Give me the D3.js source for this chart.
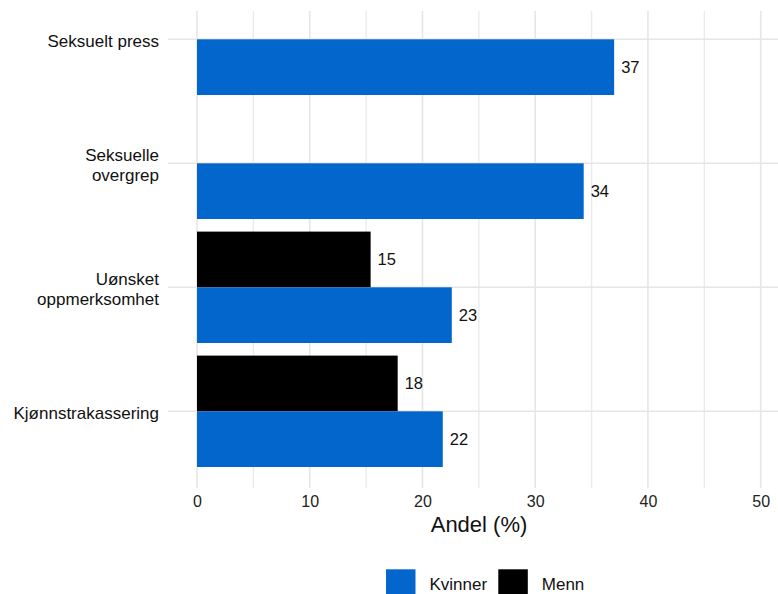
<!DOCTYPE html>
<html>
<head>
<meta charset="utf-8">
<script src="https://cdn.jsdelivr.net/npm/d3@7"></script>
<style>
  html, body { margin: 0; padding: 0; background: #fff; }
  svg { display: block; font-family: "Liberation Sans", Arial, sans-serif; }
</style>
</head>
<body>
<svg id="chart" width="778" height="594"></svg>
<script>
// ---- data ----
const categories = ["Seksuelt press", "Seksuelle\novergrep", "Uønsket\noppmerksomhet", "Kjønnstrakassering"];
const series = ["Menn", "Kvinner"];
const kvinner = [37.0, 34.3, 22.6, 21.8];
const menn = [null, null, 15.4, 17.8];
const xTicks = [0, 10, 20, 30, 40, 50];
const xMinor = [5, 15, 25, 35, 45];
const legendLabels = ["Kvinner", "Menn"];
const colors = { Kvinner: "#0366cc", Menn: "#000000" };
const xTitle = "Andel (%)";

// ---- layout ----
const svg = d3.select("#chart");
const panel = { left: 168, right: 778, top: 11, bottom: 488 };

const x = d3.scaleLinear().domain([0, 50]).range([197, 760.7]);
const y = d3.scalePoint().domain(categories).range([39.3, 411.3]);
const sub = d3.scaleBand().domain(series).range([-55.7, 55.7]).padding(0);

const grid = svg.append("g");
// vertical grid (major + minor)
grid.selectAll("line.vmin").data(xMinor).join("line")
  .attr("x1", d => x(d)).attr("x2", d => x(d))
  .attr("y1", panel.top).attr("y2", panel.bottom)
  .attr("stroke", "#ebebeb").attr("stroke-width", 1.4);
grid.selectAll("line.vmaj").data(xTicks).join("line")
  .attr("x1", d => x(d)).attr("x2", d => x(d))
  .attr("y1", panel.top).attr("y2", panel.bottom)
  .attr("stroke", "#e6e6e6").attr("stroke-width", 1.6);
// horizontal grid
grid.selectAll("line.h").data(categories).join("line")
  .attr("x1", panel.left).attr("x2", panel.right)
  .attr("y1", d => y(d)).attr("y2", d => y(d))
  .attr("stroke", "#e6e6e6").attr("stroke-width", 1.6);

// bars
const rows = [];
categories.forEach((c, i) => {
  if (menn[i] != null) rows.push({ cat: c, s: "Menn", v: menn[i] });
  if (kvinner[i] != null) rows.push({ cat: c, s: "Kvinner", v: kvinner[i] });
});

svg.append("g").selectAll("rect").data(rows).join("rect")
  .attr("x", x(0))
  .attr("y", d => y(d.cat) + sub(d.s))
  .attr("width", d => x(d.v) - x(0))
  .attr("height", sub.bandwidth())
  .attr("fill", d => colors[d.s]);

svg.append("g").selectAll("text").data(rows).join("text")
  .attr("x", d => x(d.v) + 7)
  .attr("y", d => y(d.cat) + sub(d.s) + sub.bandwidth() / 2)
  .attr("dy", "0.36em")
  .attr("font-size", 16.5)
  .attr("fill", "#111")
  .text(d => Math.round(d.v));

// x axis tick labels
const xAxis = d3.axisBottom(x).tickValues(xTicks).tickSize(0).tickPadding(0).tickFormat(d3.format("d"));
const gx = svg.append("g").attr("transform", "translate(0,496)").call(xAxis);
gx.select(".domain").remove();
gx.selectAll("text").attr("font-size", 16).attr("fill", "#222")
  .attr("font-family", "Liberation Sans, Arial, sans-serif");

// x axis title
svg.append("text")
  .attr("x", 479)
  .attr("y", 532)
  .attr("text-anchor", "middle")
  .attr("font-size", 22)
  .attr("fill", "#111")
  .text(xTitle);

// y category labels
const yl = svg.append("g").selectAll("text").data(categories).join("text")
  .attr("text-anchor", "end")
  .attr("font-size", 17)
  .attr("fill", "#111")
  .attr("x", 159)
  .attr("y", d => y(d));
yl.each(function (d) {
  const lines = d.split("\n");
  const lh = 20;
  const t = d3.select(this);
  lines.forEach((ln, i) => {
    t.append("tspan")
      .attr("x", 159)
      .attr("y", y(d) + 2 + (i - (lines.length - 1) / 2) * lh)
      .attr("dy", "0.36em")
      .text(ln);
  });
});

// legend
const legendX = [386, 498.3];
const lg = svg.append("g");
legendLabels.forEach((lab, i) => {
  lg.append("rect")
    .attr("x", legendX[i]).attr("y", 569.3)
    .attr("width", 29.5).attr("height", 29.5)
    .attr("fill", colors[lab]);
  lg.append("text")
    .attr("x", legendX[i] + 43.5).attr("y", 584)
    .attr("dy", "0.36em")
    .attr("font-size", 17)
    .attr("fill", "#111")
    .text(lab);
});
</script>
</body>
</html>
